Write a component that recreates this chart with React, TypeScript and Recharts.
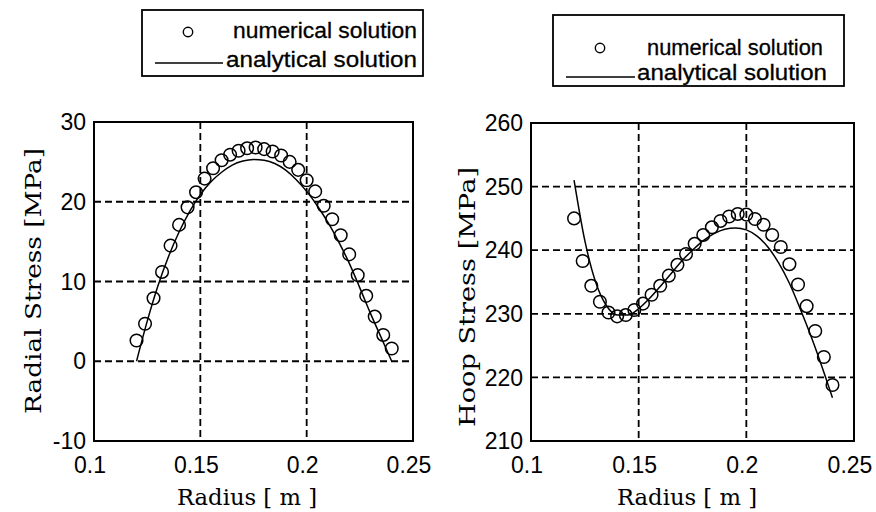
import React from 'react';
import {
  ComposedChart,
  Line,
  Scatter,
  XAxis,
  YAxis,
  CartesianGrid,
  ReferenceArea,
  Legend,
} from 'recharts';

// ---------- data ----------
const numRadius = [
  0.12, 0.124, 0.128, 0.132, 0.136, 0.14, 0.144, 0.148, 0.152, 0.156, 0.16,
  0.164, 0.168, 0.172, 0.176, 0.18, 0.184, 0.188, 0.192, 0.196, 0.2, 0.204,
  0.208, 0.212, 0.216, 0.22, 0.224, 0.228, 0.232, 0.236, 0.24,
];
const radialNumerical = [
  2.6, 4.7, 7.9, 11.2, 14.5, 17.1, 19.3, 21.2, 22.9, 24.2, 25.2, 25.9, 26.4,
  26.7, 26.8, 26.6, 26.3, 25.8, 25.0, 24.0, 22.7, 21.3, 19.5, 17.8, 15.8, 13.4,
  10.8, 8.2, 5.6, 3.3, 1.6,
];
const hoopNumerical = [
  245.0, 238.3, 234.4, 231.9, 230.2, 229.6, 229.8, 230.6, 231.6, 233.0, 234.4,
  236.0, 237.7, 239.4, 241.0, 242.4, 243.6, 244.6, 245.3, 245.7, 245.6, 244.9,
  244.0, 242.4, 240.5, 237.8, 234.6, 231.2, 227.3, 223.2, 218.8,
];

const anaRadius = [
  0.12, 0.125, 0.13, 0.135, 0.14, 0.145, 0.15, 0.155, 0.16, 0.165, 0.17, 0.175,
  0.18, 0.185, 0.19, 0.195, 0.2, 0.205, 0.21, 0.215, 0.22, 0.225, 0.23, 0.235,
  0.24,
];
const radialAnalytical = [
  0.0, 5.0, 9.4, 13.1, 16.2, 18.8, 20.9, 22.5, 23.7, 24.6, 25.1, 25.3, 25.2,
  24.8, 24.0, 22.8, 21.3, 19.5, 17.4, 15.0, 12.3, 9.2, 6.0, 3.0, 0.0,
];
const hoopAnalytical = [
  251.0, 241.5, 235.0, 231.3, 229.8, 229.8, 230.8, 232.4, 234.3, 236.3, 238.3,
  240.0, 241.5, 242.6, 243.3, 243.5, 243.2, 242.2, 240.5, 238.0, 234.8, 230.8,
  226.5, 221.8, 216.8,
];

const xTicks = [0.1, 0.15, 0.2, 0.25];
const radialTicks = [-10, 0, 10, 20, 30];
const hoopTicks = [210, 220, 230, 240, 250, 260];

const legendLabels = ['numerical solution', 'analytical solution'];
const xLabel = 'Radius [ m ]';
const radialLabel = 'Radial Stress [MPa]';
const hoopLabel = 'Hoop Stress [MPa]';

const zip = (xs: number[], ys: number[]) => xs.map((r, i) => ({ r, v: ys[i] }));

const radialNumData = zip(numRadius, radialNumerical);
const radialAnaData = zip(anaRadius, radialAnalytical);
const hoopNumData = zip(numRadius, hoopNumerical);
const hoopAnaData = zip(anaRadius, hoopAnalytical);

// ---------- styling helpers ----------
const SANS = '"Liberation Sans", Arial, sans-serif';
const SERIF = '"DejaVu Serif", serif';

const CircleShape = (props: any) => {
  const { cx, cy } = props;
  if (cx == null || cy == null) return null;
  return <circle cx={cx} cy={cy} r={6.3} fill="none" stroke="#000" strokeWidth={1.5} />;
};

const fmt = (v: number) => String(v);

type LegendBoxProps = {
  w: number;
  h: number;
  circle: [number, number];
  t1: [number, number, number];
  line: [number, number, number];
  t2: [number, number, number];
  fs: number;
};

const LegendBox = ({ w, h, circle, t1, line, t2, fs }: LegendBoxProps) => (
  <svg width={w} height={h} style={{ display: 'block' }}>
    <rect x={1} y={1} width={w - 2} height={h - 2} fill="#fff" stroke="#000" strokeWidth={1.8} />
    <circle cx={circle[0]} cy={circle[1]} r={4.7} fill="none" stroke="#000" strokeWidth={1.4} />
    <text x={t1[0]} y={t1[1]} fontFamily={SANS} fontSize={fs} fill="#000" stroke="#000" strokeWidth={0.3} textLength={t1[2]} lengthAdjust="spacingAndGlyphs">
      {legendLabels[0]}
    </text>
    <line x1={line[0]} x2={line[1]} y1={line[2]} y2={line[2]} stroke="#000" strokeWidth={1.6} />
    <text x={t2[0]} y={t2[1]} fontFamily={SANS} fontSize={fs} fill="#000" stroke="#000" strokeWidth={0.3} textLength={t2[2]} lengthAdjust="spacingAndGlyphs">
      {legendLabels[1]}
    </text>
  </svg>
);

type PanelProps = {
  numData: { r: number; v: number }[];
  anaData: { r: number; v: number }[];
  yDomain: [number, number];
  yTicks: number[];
  yWidth: number;
  marginTop: number;
  marginRight: number;
  yLabel: string;
  yLabelPos: [number, number, number];
  xLabelPos: [number, number, number];
  legendPos: { left: number; top: number };
  legend: LegendBoxProps;
};

const Panel = (p: PanelProps) => {
  const W = 438;
  const H = 512;
  return (
    <ComposedChart
      width={W}
      height={H}
      margin={{ top: p.marginTop, right: p.marginRight, bottom: 0, left: 0 }}
    >
      <CartesianGrid
        stroke="#000"
        strokeWidth={1.8}
        strokeDasharray="7 4"
        horizontal
        vertical
      />
      <XAxis
        type="number"
        dataKey="r"
        domain={[0.1, 0.25]}
        ticks={xTicks}
        tickFormatter={fmt}
        allowDataOverflow
        height={71}
        tickLine={false}
        axisLine={false}
        tickMargin={10}
        tick={{ fontFamily: SANS, fontSize: 23, fill: '#000', dx: -4 }}
        label={{
          content: () => (
            <text
              x={p.xLabelPos[0]}
              y={p.xLabelPos[1]}
              textAnchor="middle"
              fontFamily={SERIF}
              fontSize={23}
              fill="#000"
              textLength={p.xLabelPos[2]}
              lengthAdjust="spacingAndGlyphs"
            >
              {xLabel}
            </text>
          ),
        }}
      />
      <YAxis
        type="number"
        dataKey="v"
        domain={p.yDomain}
        ticks={p.yTicks}
        allowDataOverflow
        width={p.yWidth}
        tickLine={false}
        axisLine={false}
        tick={{ fontFamily: SANS, fontSize: 23, fill: '#000' }}
        label={{
          content: () => (
            <text
              x={p.yLabelPos[0]}
              y={p.yLabelPos[1]}
              textAnchor="middle"
              fontFamily={SERIF}
              fontSize={22}
              fill="#000"
              transform={`rotate(-90 ${p.yLabelPos[0]} ${p.yLabelPos[1]})`}
              textLength={p.yLabelPos[2]}
              lengthAdjust="spacingAndGlyphs"
            >
              {p.yLabel}
            </text>
          ),
        }}
      />
      <ReferenceArea
        x1={0.1}
        x2={0.25}
        y1={p.yDomain[0]}
        y2={p.yDomain[1]}
        fill="none"
        fillOpacity={0}
        stroke="#000"
        strokeWidth={2}
        ifOverflow="visible"
      />
      <Line
        data={p.anaData}
        dataKey="v"
        type="monotone"
        stroke="#000"
        strokeWidth={1.5}
        dot={false}
        activeDot={false}
        isAnimationActive={false}
        legendType="line"
        name={legendLabels[1]}
      />
      <Scatter
        data={p.numData}
        dataKey="v"
        shape={CircleShape}
        isAnimationActive={false}
        name={legendLabels[0]}
      />
      <Legend
        layout="horizontal"
        verticalAlign="middle"
        align="center"
        wrapperStyle={{ left: p.legendPos.left, top: p.legendPos.top, width: p.legend.w, height: p.legend.h }}
        content={() => <LegendBox {...p.legend} />}
      />
    </ComposedChart>
  );
};

export default function App() {
  return (
    <div
      style={{
        position: 'absolute',
        left: 0,
        top: 0,
        width: 876,
        height: 512,
        background: '#fff',
      }}
    >
      <div style={{ position: 'absolute', left: 0, top: 0 }}>
        <Panel
          numData={radialNumData}
          anaData={radialAnaData}
          yDomain={[-10, 30]}
          yTicks={radialTicks}
          yWidth={94}
          marginTop={122}
          marginRight={25}
          yLabel={radialLabel}
          yLabelPos={[41, 281, 266]}
          xLabelPos={[247, 505, 140]}
          legendPos={{ left: 141, top: 9 }}
          legend={{
            w: 283,
            h: 68,
            circle: [47, 23],
            t1: [92, 29, 184],
            line: [14, 82, 54],
            t2: [85, 58, 191],
            fs: 22,
          }}
        />
      </div>
      <div style={{ position: 'absolute', left: 438, top: 0 }}>
        <Panel
          numData={hoopNumData}
          anaData={hoopAnaData}
          yDomain={[210, 260]}
          yTicks={hoopTicks}
          yWidth={93}
          marginTop={123}
          marginRight={22}
          yLabel={hoopLabel}
          yLabelPos={[37, 297, 260]}
          xLabelPos={[249, 505, 140]}
          legendPos={{ left: 114, top: 14 }}
          legend={{
            w: 293,
            h: 73,
            circle: [48, 34],
            t1: [95, 41, 176],
            line: [14, 83, 63],
            t2: [85, 66, 190],
            fs: 22,
          }}
        />
      </div>
    </div>
  );
}
